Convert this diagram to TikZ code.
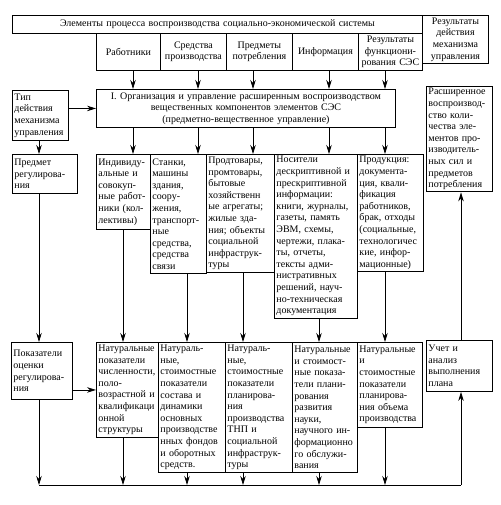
\documentclass[tikz,border=0pt]{standalone}
\usepackage{fontspec}
\setmainfont{Liberation Serif}
\usepackage{tikz}
\usetikzlibrary{arrows.meta}
\tikzset{
  blk/.style={draw,line width=0.9pt,inner sep=2pt,anchor=north west,
    font=\fontsize{10}{11.6}\selectfont},
  lbox/.style={blk,align=left},
  cbox/.style={blk,align=center},
  arr/.style={line width=0.8pt,-{Stealth[length=9pt,width=5.5pt]}}
}
\begin{document}
\begin{tikzpicture}[x=1pt,y=-1pt]
\useasboundingbox (0,0) rectangle (500,505);
% верхняя строка
\node[cbox,text width=406pt,minimum height=18pt](elem)at(12,15){Элементы процесса воспроизводства социально-экономической системы};
\node[cbox,text width=62pt,minimum height=48pt](resmech)at(422,15){Результаты\\действия\\механизма\\управления};
\node[cbox,text width=60pt,minimum height=37pt](rab)at(96,33){Работники};
\node[cbox,text width=62pt,minimum height=37pt](sredstva)at(160,33){Средства\\производства};
\node[cbox,text width=62pt,minimum height=37pt](predm)at(226,33){Предметы\\потребления};
\node[cbox,text width=62pt,minimum height=37pt](inform)at(292,33){Информация};
\node[cbox,text width=60pt,minimum height=37pt](resfunc)at(358,33){Результаты\\функциони-\\рования СЭС};
\node[cbox,text width=295pt,minimum height=38pt](boxI)at(96,89){I. Организация и управление расширенным воспроизводством\\вещественных компонентов элементов СЭС\\(предметно-вещественное управление)};
% левая колонка
\node[lbox,text width=52pt,minimum height=50pt](tip)at(12,90){Тип\\действия\\механизма\\управления};
\node[lbox,text width=61pt,minimum height=39pt](predmet)at(12,154){Предмет\\регулирова-\\ния};
\node[lbox,text width=57pt,minimum height=57pt](pokaz)at(11,342){Показатели\\оценки\\регулирова-\\ния};
% правая колонка
\node[lbox,text width=62pt,minimum height=105pt](rasshir)at(426,86){Расширенное\\воспроизвод-\\ство коли-\\чества эле-\\ментов про-\\изводитель-\\ных сил и\\предметов\\потребления};
\node[lbox,text width=62pt,minimum height=51pt](uchet)at(426,340){Учет и\\анализ\\выполнения\\плана};
% носители
\node[lbox,text width=50pt,minimum height=75pt](indiv)at(96,154){Индивиду-\\альные и\\совокуп-\\ные работ-\\ники (кол-\\лективы)};
\node[lbox,text width=52pt,minimum height=119pt](stanki)at(150,154){Станки,\\машины\\здания,\\соору-\\жения,\\транспорт-\\ные\\средства,\\средства\\связи};
\node[lbox,text width=64pt,minimum height=118pt](prodtov)at(206,154){Продтовары,\\промтовары,\\бытовые\\хозяйственн\\ые агрегаты;\\жилые зда-\\ния; объекты\\социальной\\инфраструк-\\туры};
\node[lbox,text width=79pt,minimum height=163pt](nositeli)at(274,154){Носители\\дескриптивной и\\прескриптивной\\информации:\\книги, журналы,\\газеты, память\\ЭВМ, схемы,\\чертежи, плака-\\ты, отчеты,\\тексты адми-\\нистративных\\решений, науч-\\но-техническая\\документация};
\node[lbox,text width=62pt,minimum height=117pt](produkcia)at(357,154){Продукция:\\документа-\\ция, квали-\\фикация\\работников,\\брак, отходы\\(социальные,\\технологичес\\кие, инфор-\\мационные)};
% показатели
\node[lbox,text width=58pt,minimum height=95pt](nat1)at(96,342){Натуральные\\показатели\\численности,\\поло-\\возрастной и\\квалификаци\\онной\\структуры};
\node[lbox,text width=63pt,minimum height=130pt](nat2)at(158,342){Натураль-\\ные,\\стоимостные\\показатели\\состава и\\динамики\\основных\\производстве\\нных фондов\\и оборотных\\средств.};
\node[lbox,text width=63pt,minimum height=130pt](nat3)at(225,342){Натураль-\\ные,\\стоимостные\\показатели\\планирова-\\ния\\производства\\ТНП и\\социальной\\инфраструк-\\туры};
\node[lbox,text width=61pt,minimum height=130pt](nat4)at(292,342){Натуральные\\и стоимост-\\ные показа-\\тели плани-\\рования\\развития\\науки,\\научного ин-\\формационно\\го обслужи-\\вания};
\node[lbox,text width=61pt,minimum height=85pt](nat5)at(357,342){Натуральные\\и\\стоимостные\\показатели\\планирова-\\ния объема\\производства};
\coordinate(bl)at(39,485);
\coordinate(br)at(461,485);
\foreach \a/\b/\x in {rab/indiv/133,sredstva/stanki/198,predm/prodtov/253,inform/nositeli/329,resfunc/produkcia/385}{
  \draw[arr](\a.south -| \x,0)--(boxI.north -| \x,0);
  \draw[arr](boxI.south -| \x,0)--(\b.north -| \x,0);
}
\foreach \a/\b/\x in {indiv/nat1/123,stanki/nat2/187,prodtov/nat3/243,nositeli/nat4/319,produkcia/nat5/385}{
  \draw[arr](\a.south -| \x,0)--(\b.north -| \x,0);
  \draw[arr](\b.south -| \x,0)--(bl -| \x,0);
}
\draw[arr](tip.east |- boxI.west)--(boxI.west);
\draw[arr](tip.south -| bl)--(predmet.north -| bl);
\draw[arr](predmet.south -| bl)--(pokaz.north -| bl);
\draw[arr](pokaz.east |- nat1.west)--(nat1.west);
\draw[arr](pokaz.south -| bl)--(bl);
\draw[line width=0.8pt](bl)--(br);
\draw[arr](br)--(uchet.south -| br);
\draw[arr](uchet.north -| br)--(rasshir.south -| br);
\end{tikzpicture}
\end{document}
